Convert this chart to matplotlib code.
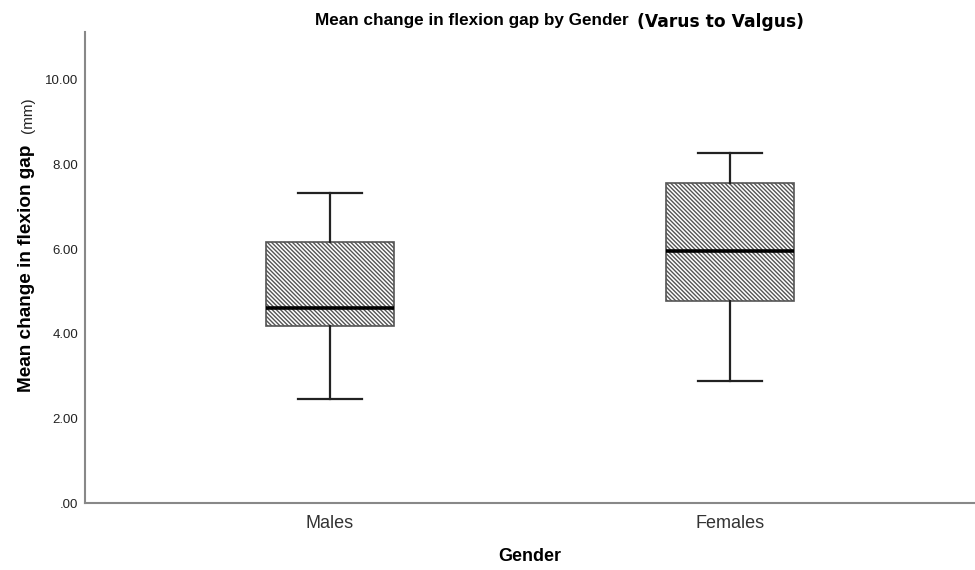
import matplotlib
matplotlib.use("Agg")
import matplotlib.pyplot as plt

plt.rcParams['font.family'] = ['Liberation Sans', 'DejaVu Sans']
plt.rcParams['hatch.linewidth'] = 1.0
plt.rcParams['hatch.color'] = '#3a3a3a'

categories = ["Males", "Females"]
whislo = [2.46, 2.88]
q1 = [4.18, 4.78]
med = [4.61, 5.96]
q3 = [6.17, 7.56]
whishi = [7.33, 8.27]
yticks = [0, 2, 4, 6, 8, 10]
ytick_labels = [".00", "2.00", "4.00", "6.00", "8.00", "10.00"]

stats = [dict(label=c, whislo=a, q1=b, med=m, q3=d, whishi=e, fliers=[])
         for c, a, b, m, d, e in zip(categories, whislo, q1, med, q3, whishi)]

fig = plt.figure(figsize=(9.75, 5.7), dpi=100)
ax = fig.add_axes([85/975, 1-503/570, 890/975, (503-32)/570])

bp = ax.bxp(stats, positions=[0, 1], widths=0.32, patch_artist=True,
            showfliers=False,
            boxprops=dict(facecolor='white', edgecolor='#555555', linewidth=1.2,
                          hatch='\\' * 8),
            medianprops=dict(color='black', linewidth=2.6),
            whiskerprops=dict(color='#222222', linewidth=1.6),
            capprops=dict(color='#222222', linewidth=1.6),
            capwidths=0.16)

ax.set_xlim(-0.6125, 1.6125)
ax.set_ylim(0, 11.13)
ax.set_yticks(yticks)
ax.set_yticklabels(ytick_labels, fontsize=9.5, color='#222222')
ax.set_xticks([0, 1])
ax.set_xticklabels(categories, fontsize=13, color='#333333')
ax.tick_params(axis='both', length=0)
ax.tick_params(axis='y', pad=5)
ax.tick_params(axis='x', pad=9)
for s in ['top', 'right']:
    ax.spines[s].set_visible(False)
for s in ['left', 'bottom']:
    ax.spines[s].set_color('#888888')
    ax.spines[s].set_linewidth(1.5)

ax.set_xlabel("Gender", fontsize=13, fontweight='bold', labelpad=11)
fig.text(27/975, 1-268/570, "Mean change in flexion gap", rotation=90, fontsize=13.7,
         fontweight='bold', ha='center', va='center')
fig.text(28/975, 1-115/570, "(mm)", rotation=90, fontsize=11, ha='center', va='center',
         color='#222222')
fig.text(629/975, 1-21/570, "Mean change in flexion gap by Gender", fontsize=12.3,
         fontweight='bold', ha='right', va='center')
fig.text(637/975, 1-22/570, "(Varus to Valgus)", fontsize=12.3,
         fontweight='bold', ha='left', va='center', family=['DejaVu Sans'])

fig.savefig("out.png", dpi=100)
